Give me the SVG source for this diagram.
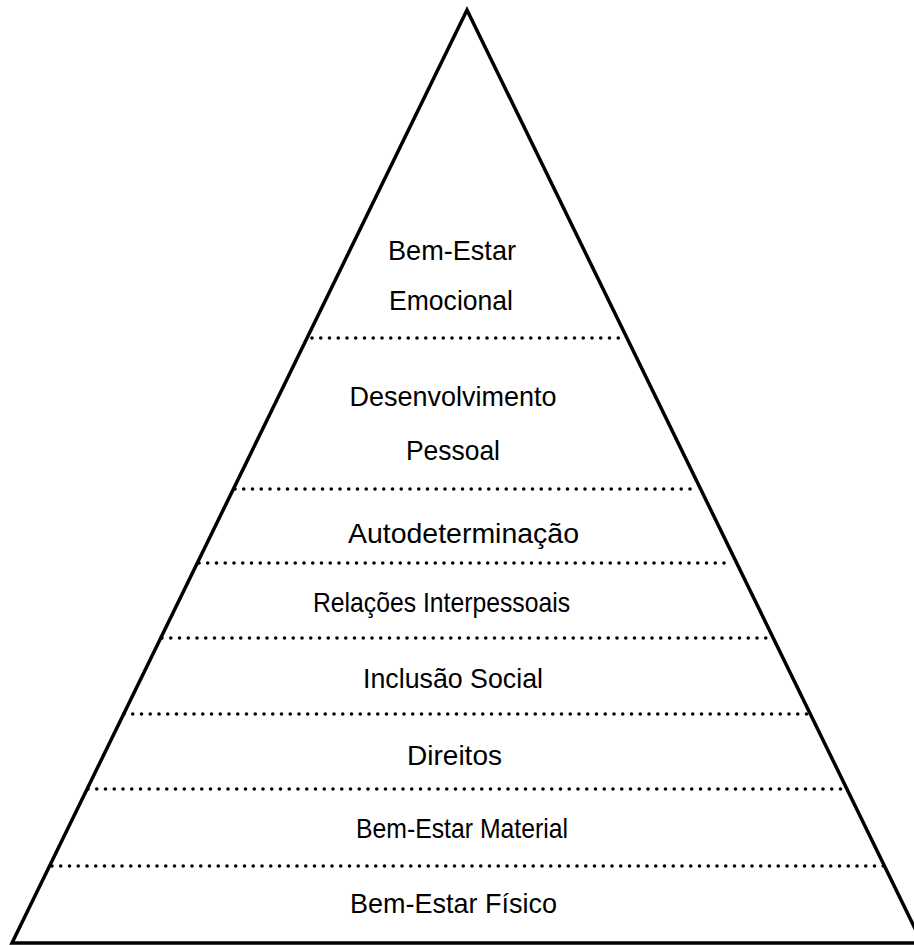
<svg xmlns="http://www.w3.org/2000/svg" width="914" height="945" viewBox="0 0 914 945">
<style>
.edge{fill:none;stroke:#000;stroke-width:3.5;stroke-linejoin:miter}
.dot{stroke:#000;stroke-width:3.6;stroke-linecap:round;stroke-dasharray:0 8.75}
.lbl{font-family:"Liberation Sans",Arial,sans-serif;font-size:28px;fill:#000;text-anchor:middle}
</style>
<rect width="914" height="945" fill="#fff"/>
<g id="pyramid">
<polygon class="edge" points="467,10 922,943 12,943"/>
</g>
<g id="connectors">
<line class="dot" x1="312" y1="338" x2="627" y2="338"/>
<line class="dot" x1="235" y1="489" x2="692" y2="489"/>
<line class="dot" x1="199" y1="563" x2="729" y2="563"/>
<line class="dot" x1="162" y1="638" x2="773" y2="638"/>
<line class="dot" x1="124" y1="714" x2="808" y2="714"/>
<line class="dot" x1="88" y1="789" x2="845" y2="789"/>
<line class="dot" x1="52" y1="866" x2="885" y2="866"/>
</g>
<g id="n1"><text class="lbl" x="452" y="260" textLength="128" lengthAdjust="spacingAndGlyphs">Bem-Estar</text><text class="lbl" x="451" y="310" textLength="124" lengthAdjust="spacingAndGlyphs">Emocional</text></g>
<g id="n2"><text class="lbl" x="453" y="406" textLength="207" lengthAdjust="spacingAndGlyphs">Desenvolvimento</text><text class="lbl" x="453" y="460" textLength="94" lengthAdjust="spacingAndGlyphs">Pessoal</text></g>
<g id="n3"><text class="lbl" x="463.5" y="543" textLength="231" lengthAdjust="spacingAndGlyphs">Autodeterminação</text></g>
<g id="n4"><text class="lbl" x="441.5" y="612" textLength="257" lengthAdjust="spacingAndGlyphs">Relações Interpessoais</text></g>
<g id="n5"><text class="lbl" x="453" y="688" textLength="180" lengthAdjust="spacingAndGlyphs">Inclusão Social</text></g>
<g id="n6"><text class="lbl" x="454.5" y="765" textLength="95" lengthAdjust="spacingAndGlyphs">Direitos</text></g>
<g id="n7"><text class="lbl" x="462" y="838" textLength="212" lengthAdjust="spacingAndGlyphs">Bem-Estar Material</text></g>
<g id="n8"><text class="lbl" x="453.5" y="913" textLength="207" lengthAdjust="spacingAndGlyphs">Bem-Estar Físico</text></g>
</svg>
